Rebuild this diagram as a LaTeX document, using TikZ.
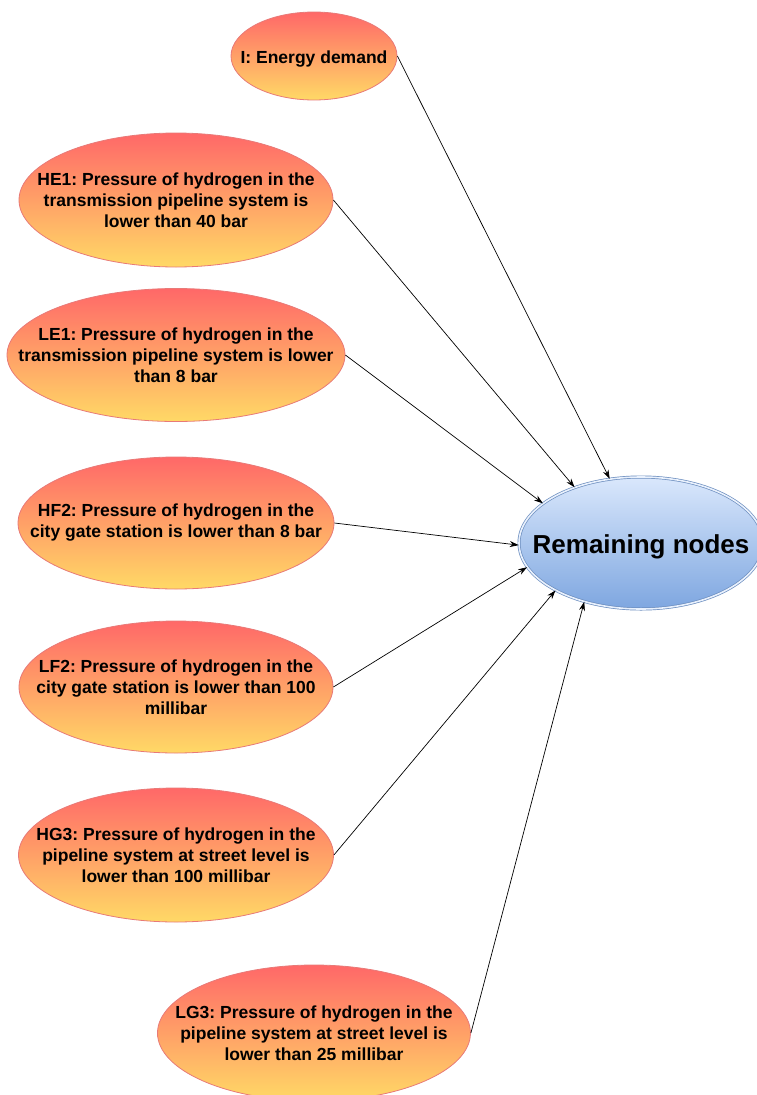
\documentclass[tikz,border=0pt]{standalone}
\usepackage{fontspec}
\setmainfont{Liberation Sans}
\frenchspacing
\usetikzlibrary{shapes.geometric,shadings,arrows.meta}
\definecolor{redtop}{HTML}{FF6868}
\definecolor{yellowbot}{HTML}{FFD966}
\definecolor{redline}{HTML}{E87A78}
\definecolor{bluetop}{HTML}{DAE8FC}
\definecolor{bluebot}{HTML}{7EA6E0}
\definecolor{blueline}{HTML}{6C8EBF}
\tikzset{
  cause/.style={ellipse, draw=redline, line width=0.8pt, top color=redtop, bottom color=yellowbot,
    inner xsep=-60pt, inner ysep=-25pt, align=center, font=\fontsize{17.5}{21}\selectfont\bfseries},
  effect/.style={ellipse, draw=blueline, line width=0.7pt, double=bluetop!60, double distance=1.6pt,
    top color=bluetop, bottom color=bluebot, inner xsep=-60pt, inner ysep=-10pt, align=center,
    font=\fontsize{26}{30}\selectfont\bfseries},
  link/.style={-{Stealth[length=9pt,width=6pt]}, line width=0.7pt, black}
}
\begin{document}
\begin{tikzpicture}[x=1pt,y=-1pt]
\useasboundingbox (0,0) rectangle (756,1095);
\node[cause, minimum width=166pt, minimum height=88pt, inner xsep=-30pt] (I) at (314,56) {\raisebox{-3pt}[\height][\depth]{I: Energy demand}};
\node[cause, minimum width=314pt, minimum height=134pt] (HE1) at (176,200) {HE1: Pressure of hydrogen in the\\transmission pipeline system is\\lower than 40 bar};
\node[cause, minimum width=338pt, minimum height=133pt] (LE1) at (176,355) {LE1: Pressure of hydrogen in the\\transmission pipeline system is lower\\than 8 bar};
\node[cause, minimum width=316pt, minimum height=132pt] (HF2) at (176,523) {HF2: Pressure of hydrogen in the\\city gate station is lower than 8 bar};
\node[cause, minimum width=314pt, minimum height=132pt] (LF2) at (176,687) {LF2: Pressure of hydrogen in the\\city gate station is lower than 100\\millibar};
\node[cause, minimum width=315pt, minimum height=134pt] (HG3) at (176,855) {HG3: Pressure of hydrogen in the\\pipeline system at street level is\\lower than 100 millibar};
\node[cause, minimum width=313pt, minimum height=136pt] (LG3) at (314,1033) {LG3: Pressure of hydrogen in the\\pipeline system at street level is\\lower than 25 millibar};
\node[effect, minimum width=244pt, minimum height=132pt] (R) at (641,543) {\raisebox{-4pt}[\height][\depth]{Remaining nodes}};
\draw[link] (I.east) -- (R.116);
\draw[link] (HE1.east) -- (R.140);
\draw[link] (LE1.east) -- (R.158);
\draw[link] (HF2.east) -- (R.181);
\draw[link] (LF2.east) -- (R.192);
\draw[link] (HG3.east) -- (R.209);
\draw[link] (LG3.east) -- (R.226);
\end{tikzpicture}
\end{document}
